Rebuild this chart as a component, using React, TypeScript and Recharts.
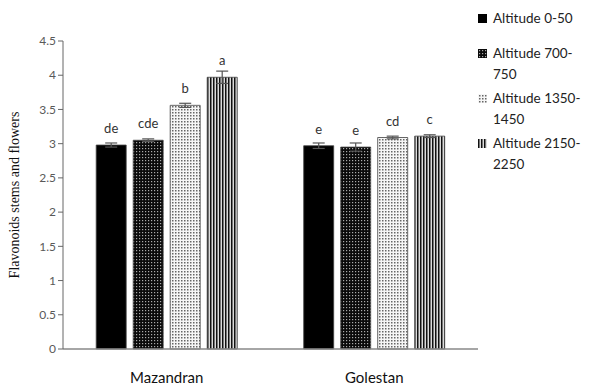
import { BarChart, Bar, XAxis, YAxis, ErrorBar, LabelList } from "recharts"

const REGIONS = ["Mazandran", "Golestan"]
const ALT_0_50 = [2.98, 2.97]
const ALT_700_750 = [3.05, 2.95]
const ALT_1350_1450 = [3.56, 3.09]
const ALT_2150_2250 = [3.97, 3.11]
const ERR_0_50 = [0.03, 0.04]
const ERR_700_750 = [0.02, 0.06]
const ERR_1350_1450 = [0.03, 0.02]
const ERR_2150_2250 = [0.09, 0.02]
const LET_0_50 = ["de", "e"]
const LET_700_750 = ["cde", "e"]
const LET_1350_1450 = ["b", "cd"]
const LET_2150_2250 = ["a", "c"]
const Y_TICKS = [0, 0.5, 1, 1.5, 2, 2.5, 3, 3.5, 4, 4.5]

const SERIES = [
  { key: "a1", name: "Altitude 0-50", lines: ["Altitude 0-50"], fill: "#000", values: ALT_0_50, err: ERR_0_50, letters: LET_0_50 },
  { key: "a2", name: "Altitude 700-750", lines: ["Altitude 700-", "750"], fill: "url(#pDark)", values: ALT_700_750, err: ERR_700_750, letters: LET_700_750 },
  { key: "a3", name: "Altitude 1350-1450", lines: ["Altitude 1350-", "1450"], fill: "url(#pLight)", values: ALT_1350_1450, err: ERR_1350_1450, letters: LET_1350_1450 },
  { key: "a4", name: "Altitude 2150-2250", lines: ["Altitude 2150-", "2250"], fill: "url(#pStripe)", values: ALT_2150_2250, err: ERR_2150_2250, letters: LET_2150_2250 },
]

const data = REGIONS.map((region, i) => {
  const row: any = { region }
  SERIES.forEach((s) => {
    row[s.key] = s.values[i]
    row[s.key + "Err"] = s.err[i]
    row[s.key + "Let"] = s.letters[i]
  })
  return row
})

const FONT = "Lato, 'Open Sans', sans-serif"

function Patterns({ pre }: { pre: string }) {
  return (
    <>
      <pattern id={pre + "Dark"} width={3} height={3} patternUnits="userSpaceOnUse">
        <rect width={3} height={3} fill="#0a0a0a" />
        <rect x={1} y={1} width={1.2} height={1.2} fill="#aaa" />
      </pattern>
      <pattern id={pre + "Light"} width={3} height={3} patternUnits="userSpaceOnUse">
        <rect width={3} height={3} fill="#f6f6f6" />
        <rect x={1} y={1} width={1.5} height={1.5} fill="#666" />
      </pattern>
      <pattern id={pre + "Stripe"} width={3} height={3} patternUnits="userSpaceOnUse">
        <rect width={3} height={3} fill="#dcdcdc" />
        <rect x={0} y={0} width={1.5} height={3} fill="#111" />
      </pattern>
    </>
  )
}

function LegendBox() {
  return (
    <div style={{ position: "absolute", left: 478, top: 8, width: 117, fontFamily: FONT, fontSize: 13.5, color: "#222", lineHeight: "21px" }}>
      <svg width={0} height={0} style={{ position: "absolute" }}>
        <defs>
          <Patterns pre="l" />
        </defs>
      </svg>
      {SERIES.map((s, i) => (
        <div key={s.key} style={{ display: "flex", marginBottom: i === 0 ? 14 : 3 }}>
          <svg width={9} height={9} style={{ marginTop: 6, marginRight: 6, flex: "none" }}>
            <rect x={0} y={0} width={9} height={9} fill={s.fill.replace("#p", "#l")} />
          </svg>
          <div>
            {s.lines.map((l) => (
              <div key={l}>{l}</div>
            ))}
          </div>
        </div>
      ))}
    </div>
  )
}

export default function App() {
  return (
    <div style={{ position: "absolute", left: 0, top: 0, width: 595, height: 385, background: "#fff" }}>
      <BarChart
        width={595}
        height={385}
        data={data}
        margin={{ top: 41, right: 117, bottom: 6, left: 0 }}
        barCategoryGap="16%"
        barGap={7}
      >
        <defs>
          <Patterns pre="p" />
        </defs>
        <XAxis
          dataKey="region"
          height={30}
          tickLine={false}
          axisLine={{ stroke: "#888", strokeWidth: 1.5 }}
          tickMargin={17}
          tick={{ fontFamily: FONT, fontSize: 15, fill: "#111" }}
        />
        <YAxis
          width={63}
          domain={[0, 4.5]}
          ticks={Y_TICKS}
          interval={0}
          tickSize={5}
          tickLine={{ stroke: "#666" }}
          axisLine={{ stroke: "#666" }}
          tick={{ fontFamily: FONT, fontSize: 12, fill: "#595959" }}
          label={{
            value: "Flavonoids stems and flowers",
            angle: -90,
            position: "insideLeft",
            offset: 14,
            style: { fontFamily: "'Liberation Serif', serif", fontSize: 14, fill: "#111", textAnchor: "middle" },
          }}
        />
        {SERIES.map((s) => (
          <Bar
            key={s.key}
            dataKey={s.key}
            name={s.name}
            fill={s.fill}
            stroke="#444"
            strokeWidth={0.8}
            isAnimationActive={false}
          >
            <ErrorBar dataKey={s.key + "Err"} width={6} stroke="#555" strokeWidth={1.2} direction="y" />
            <LabelList
              dataKey={s.key + "Let"}
              position="top"
              offset={12}
              style={{ fontFamily: FONT, fontSize: 13, fill: "#333" }}
            />
          </Bar>
        ))}
      </BarChart>
      <LegendBox />
    </div>
  )
}
